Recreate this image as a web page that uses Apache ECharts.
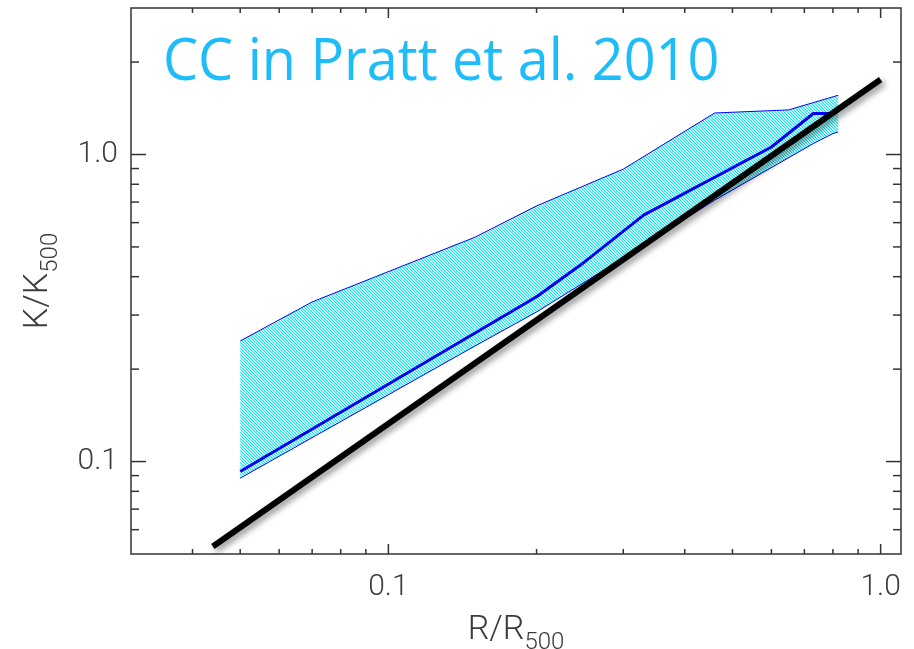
<!DOCTYPE html>
<html>
<head>
<meta charset="utf-8">
<script src="https://cdn.jsdelivr.net/npm/echarts@6/dist/echarts.min.js"></script>
<style>
html, body { margin: 0; padding: 0; background: #fff; }
#chart { width: 914px; height: 649px; }
</style>
</head>
<body>
<div id="chart"></div>
<script>
// CC entropy band (Pratt et al. 2010), K/K500 against R/R500, log-log
const upperX = [0.05, 0.07, 0.15, 0.2, 0.3, 0.46, 0.65, 0.82];
const upperY = [0.247, 0.331, 0.538, 0.68, 0.896, 1.365, 1.397, 1.559];
const lowerX = [0.05, 0.15, 0.2, 0.3, 0.46, 0.73, 0.8, 0.82];
const lowerY = [0.0883, 0.238, 0.307, 0.46, 0.71, 1.086, 1.17, 1.184];
const medianX = [0.05, 0.2, 0.25, 0.33, 0.6, 0.73, 0.79, 0.82];
const medianY = [0.0928, 0.344, 0.446, 0.635, 1.058, 1.36, 1.36, 1.42];
// black reference line
const refX = [0.044, 1.0];
const refY = [0.0529, 1.754];

// ticks
const xMajor = [0.1, 1.0];
const xMinor = [0.04, 0.05, 0.06, 0.07, 0.08, 0.09, 0.2, 0.3, 0.4, 0.5, 0.6, 0.7, 0.8, 0.9];
const yMajor = [0.1, 1.0];
const yMinor = [0.06, 0.07, 0.08, 0.09, 0.2, 0.3, 0.4, 0.5, 0.6, 0.7, 0.8, 0.9, 2];
const xTickLabels = ['0.1', '1.0'];
const yTickLabels = ['0.1', '1.0'];

const xMin = 0.03, xMax = 1.1;
const yMin = 0.05, yMax = 3;

const zip = (a, b) => a.map((v, i) => [v, b[i]]);

// hatch pattern for the band
function makeHatch() {
    const c = document.createElement('canvas');
    c.width = 3;
    c.height = 3;
    const ctx = c.getContext('2d');
    const img = ctx.createImageData(3, 3);
    for (let y = 0; y < 3; y++) {
        for (let x = 0; x < 3; x++) {
            const k = (x - y + 3) % 3;
            const i = (y * 3 + x) * 4;
            let col = [255, 255, 255];
            if (k === 0) col = [0, 235, 245];
            else if (k === 1) col = [150, 246, 250];
            img.data[i] = col[0];
            img.data[i + 1] = col[1];
            img.data[i + 2] = col[2];
            img.data[i + 3] = 255;
        }
    }
    ctx.putImageData(img, 0, 0);
    return c;
}
const hatch = makeHatch();

const labelFont = {
    fontFamily: 'Roboto',
    fontWeight: 300,
    fontSize: 30,
    color: '#3c3c3c'
};
// subscript: pad the small token on top so it sits lower in the line
const nameRich = {
    a: { fontFamily: 'Roboto', fontWeight: 300, fontSize: 34, lineHeight: 34, color: '#3c3c3c' },
    b: { fontFamily: 'Roboto', fontWeight: 300, fontSize: 24, lineHeight: 24, color: '#3c3c3c', padding: [25, 0, 0, 0] }
};

function pickLabel(values, labels) {
    return function (v) {
        for (let i = 0; i < values.length; i++) {
            if (Math.abs(v - values[i]) < 1e-6) return labels[i];
        }
        return '';
    };
}

const xTicks = xMinor.concat(xMajor);
const xTickLen = xMinor.map(() => 5).concat(xMajor.map(() => 10));
const yTicks = yMinor.concat(yMajor);
const yTickLen = yMinor.map(() => 8).concat(yMajor.map(() => 15));
const tickStyle = { stroke: '#333', lineWidth: 1.5 };

let chart = echarts.init(document.getElementById('chart'));

chart.setOption({
    animation: false,
    backgroundColor: '#fff',
    grid: {
        left: 131,
        top: 8,
        width: 770,
        height: 546,
        containLabel: false,
        outerBoundsMode: 'none',
        show: true,
        borderColor: '#333',
        borderWidth: 1.5,
        backgroundColor: 'transparent'
    },
    graphic: [
        {
            type: 'text',
            left: 163,
            top: 34,
            scaleX: 0.945,
            style: {
                text: 'CC in Pratt et al. 2010',
                fill: '#1ebcf8',
                font: '59px "Open Sans"'
            }
        }
    ],
    xAxis: {
        type: 'log',
        min: xMin,
        max: xMax,
        name: '{a|R/R}{b|500}',
        nameLocation: 'middle',
        nameGap: 59,
        nameMoveOverlap: false,
        nameTextStyle: { rich: nameRich },
        axisLine: { show: false },
        axisTick: { show: false },
        splitLine: { show: false },
        axisLabel: Object.assign({ margin: 18, formatter: pickLabel(xMajor, xTickLabels) }, labelFont)
    },
    yAxis: {
        type: 'log',
        min: yMin,
        max: yMax,
        name: '{a|K/K}{b|500}',
        nameLocation: 'middle',
        nameGap: 76,
        nameMoveOverlap: false,
        nameTextStyle: { rich: nameRich },
        axisLine: { show: false },
        axisTick: { show: false },
        splitLine: { show: false },
        axisLabel: Object.assign({ margin: 13, formatter: pickLabel(yMajor, yTickLabels) }, labelFont)
    },
    series: [
        {
            // hatched band between lower and upper bounds
            type: 'custom',
            data: [[upperX[0], upperY[0]]],
            z: 1,
            renderItem: function (params, api) {
                const pts = [];
                upperX.forEach((x, i) => pts.push(api.coord([x, upperY[i]])));
                for (let i = lowerX.length - 1; i >= 0; i--) {
                    pts.push(api.coord([lowerX[i], lowerY[i]]));
                }
                return {
                    type: 'polygon',
                    shape: { points: pts },
                    style: { fill: { image: hatch, repeat: 'repeat' }, stroke: null }
                };
            }
        },
        {
            type: 'line',
            data: zip(upperX, upperY),
            showSymbol: false,
            z: 2,
            lineStyle: { color: '#0000ff', width: 1 }
        },
        {
            type: 'line',
            data: zip(lowerX, lowerY),
            showSymbol: false,
            z: 2,
            lineStyle: { color: '#0000ff', width: 1 }
        },
        {
            type: 'line',
            data: zip(medianX, medianY),
            showSymbol: false,
            z: 3,
            lineStyle: { color: '#0000f0', width: 3 }
        },
        {
            type: 'line',
            data: zip(refX, refY),
            showSymbol: false,
            z: 4,
            lineStyle: {
                color: '#000',
                width: 6,
                cap: 'butt',
                shadowColor: 'rgba(0,0,0,0.45)',
                shadowBlur: 6,
                shadowOffsetX: 3,
                shadowOffsetY: 3
            }
        },
        {
            // x ticks, bottom and top
            type: 'custom',
            data: xTicks.map(v => [v, yMin]),
            z: 5,
            renderItem: function (params, api) {
                const v = api.value(0);
                const len = xTickLen[params.dataIndex];
                const b = api.coord([v, yMin]);
                const t = api.coord([v, yMax]);
                return {
                    type: 'group',
                    children: [
                        { type: 'line', shape: { x1: b[0], y1: b[1], x2: b[0], y2: b[1] - len }, style: tickStyle },
                        { type: 'line', shape: { x1: t[0], y1: t[1], x2: t[0], y2: t[1] + len }, style: tickStyle }
                    ]
                };
            }
        },
        {
            // y ticks, left and right
            type: 'custom',
            data: yTicks.map(v => [xMin, v]),
            z: 5,
            renderItem: function (params, api) {
                const v = api.value(1);
                const len = yTickLen[params.dataIndex];
                const l = api.coord([xMin, v]);
                const r = api.coord([xMax, v]);
                return {
                    type: 'group',
                    children: [
                        { type: 'line', shape: { x1: l[0], y1: l[1], x2: l[0] + len, y2: l[1] }, style: tickStyle },
                        { type: 'line', shape: { x1: r[0], y1: r[1], x2: r[0] - len, y2: r[1] }, style: tickStyle }
                    ]
                };
            }
        }
    ]
});
</script>
</body>
</html>
